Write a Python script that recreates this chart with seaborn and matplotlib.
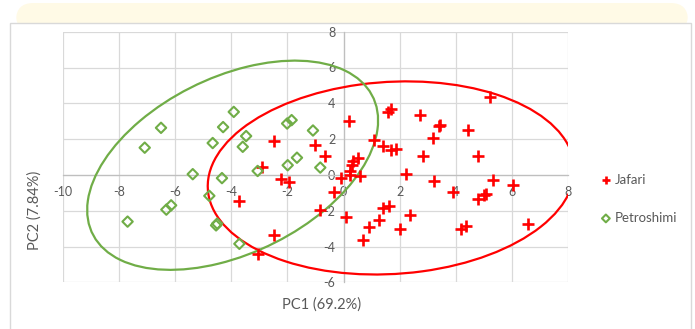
import numpy as np
import pandas as pd
import seaborn as sns
import matplotlib
matplotlib.use("Agg")
import matplotlib.pyplot as plt
from matplotlib.patches import Ellipse, Rectangle, FancyBboxPatch

# ---------------- data ----------------
jafari_x = [0.21, -2.47, -1.0, -0.65, 0.33, 0.5, 0.3, 0.24, 0.24, 0.6, -0.1, -2.9,
            1.57, 1.70, 2.73, 5.22, 3.38, 3.45, 4.43, 3.18, 1.07, 1.42, 1.70, 1.88,
            2.81, 4.8, -0.35, 2.23, 3.22, 3.89, 5.33, 6.03, 4.8, 5.0, 5.08, 1.39,
            1.6, 0.08, 2.37, 1.26, 0.89, 2.02, 4.18, 4.37, 6.55, 0.68, -2.23, -1.96,
            -3.74, -0.85, -2.47, -3.03]
jafari_y = [3.0, 1.89, 1.67, 1.07, 0.8, 0.95, 0.56, 0.22, 0.0, -0.05, -0.15, 0.46,
            3.52, 3.67, 3.35, 4.35, 2.72, 2.79, 2.5, 2.04, 1.94, 1.6, 1.39, 1.46,
            1.04, 1.04, -0.96, 0.04, -0.35, -0.96, -0.3, -0.57, -1.35, -1.11, -1.06, -1.85,
            -1.72, -2.35, -2.24, -2.5, -2.89, -3.04, -3.04, -2.87, -2.74, -3.65, -0.22, -0.37,
            -1.48, -1.98, -3.33, -4.44]

petro_x = [-6.5, -7.08, -3.91, -4.29, -3.47, -4.66, -3.59, -2.01, -1.85, -1.09, -1.66,
           -1.99, -0.83, -3.06, -5.37, -4.33, -4.78, -6.14, -6.31, -7.69, -4.5, -4.54, -3.71]
petro_y = [2.63, 1.52, 3.52, 2.67, 2.17, 1.78, 1.57, 2.87, 3.06, 2.48, 0.96,
           0.54, 0.41, 0.22, 0.04, -0.18, -1.17, -1.7, -1.94, -2.61, -2.72, -2.82, -3.85]

groups = ["Jafari", "Petroshimi"]
ellipse_cx = [1.69, -3.95]
ellipse_cy = [-0.17, 0.54]
ellipse_w = [13.15, 13.26]
ellipse_h = [10.67, 8.25]
ellipse_angle = [12.0, 52.9]

x_ticks = [-10, -8, -6, -4, -2, 0, 2, 4, 6, 8]
y_ticks = [-6, -4, -2, 0, 2, 4, 6, 8]

df = pd.DataFrame({
    "PC1": jafari_x + petro_x,
    "PC2": jafari_y + petro_y,
    "group": ["Jafari"] * len(jafari_x) + ["Petroshimi"] * len(petro_x),
})

# ---------------- style ----------------
sns.set_style("white")
plt.rcParams["font.family"] = ["Lato", "DejaVu Sans"]
plt.rcParams["axes.unicode_minus"] = False

RED = "#FF0000"
GREEN = "#70AD47"
TXT = "#595959"
colors = {"Jafari": RED, "Petroshimi": GREEN}

W, H = 695, 329
fig = plt.figure(figsize=(W / 100, H / 100), dpi=100)
fig.patch.set_facecolor("white")

# pale yellow tab at top and chart frame
tab = FancyBboxPatch((16 / W, 1 - 32 / H), (688 - 16) / W, 29 / H,
                     boxstyle="round,pad=0,rounding_size=0.025",
                     mutation_aspect=W / H,
                     transform=fig.transFigure, fc="#FFFAE6", ec="none", zorder=-3)
fig.add_artist(tab)
frame = Rectangle((10 / W, -0.1), (691 - 10) / W, (1 - 23 / H) + 0.1,
                  transform=fig.transFigure, fc="white", ec="#D9D9D9", lw=1, zorder=-2)
fig.add_artist(frame)

ax = fig.add_axes([62.7 / W, 1 - 282.3 / H, (568.3 - 62.7) / W, (282.3 - 31.7) / H])
ax.set_facecolor("none")

sub_j = df[df["group"] == "Jafari"]
sub_p = df[df["group"] == "Petroshimi"]
sns.scatterplot(data=sub_j, x="PC1", y="PC2", marker="+", s=64, color=RED,
                linewidth=1.9, ax=ax, legend=False, zorder=3)
sns.scatterplot(data=sub_p, x="PC1", y="PC2", marker="D", s=28, facecolor="none",
                edgecolor=GREEN, linewidth=1.5, ax=ax, legend=False, zorder=3)

for g, cx, cy, w, h, a in zip(groups, ellipse_cx, ellipse_cy, ellipse_w, ellipse_h, ellipse_angle):
    ax.add_patch(Ellipse((cx, cy), w, h, angle=a, fill=False,
                         ec=colors[g], lw=1.6, zorder=2))

ax.set_xlim(x_ticks[0], x_ticks[-1])
ax.set_ylim(y_ticks[0], y_ticks[-1])
ax.set_xticks(x_ticks)
ax.set_yticks(y_ticks)
ax.set_xticklabels([str(v) for v in x_ticks])
ax.set_yticklabels([str(v) for v in y_ticks])
ax.grid(True, color="#D9D9D9", lw=0.9)
ax.set_axisbelow(True)
for s in ["top", "right"]:
    ax.spines[s].set_visible(False)
ax.spines["left"].set_position(("data", 0))
ax.spines["bottom"].set_position(("data", 0))
for s in ["left", "bottom"]:
    ax.spines[s].set_color("#BFBFBF")
    ax.spines[s].set_linewidth(0.9)
    ax.spines[s].set_zorder(1)
ax.tick_params(axis="both", length=0, labelsize=9, labelcolor=TXT)
ax.tick_params(axis="x", pad=8)
ax.tick_params(axis="y", pad=6)
ax.set_xlabel("")
ax.set_ylabel("")

fig.text(322 / W, 1 - 305 / H, "PC1 (69.2%)", ha="center", va="center",
         fontsize=10.5, color=TXT)
fig.text(35 / W, 1 - 210 / H, "PC2 (7.84%)", ha="center", va="center",
         rotation=90, fontsize=10.5, color=TXT)

handles = [ax.collections[0], ax.collections[1]]
leg = ax.legend(handles, groups, loc="center left",
                bbox_to_anchor=(594 / W, 1 - 198.7 / H), bbox_transform=fig.transFigure,
                frameon=False, fontsize=9.5, handlelength=0.8, handletextpad=0.3,
                labelspacing=2.0, borderpad=0, markerscale=0.75)
for t in leg.get_texts():
    t.set_color(TXT)

fig.savefig("out.png", dpi=100)
